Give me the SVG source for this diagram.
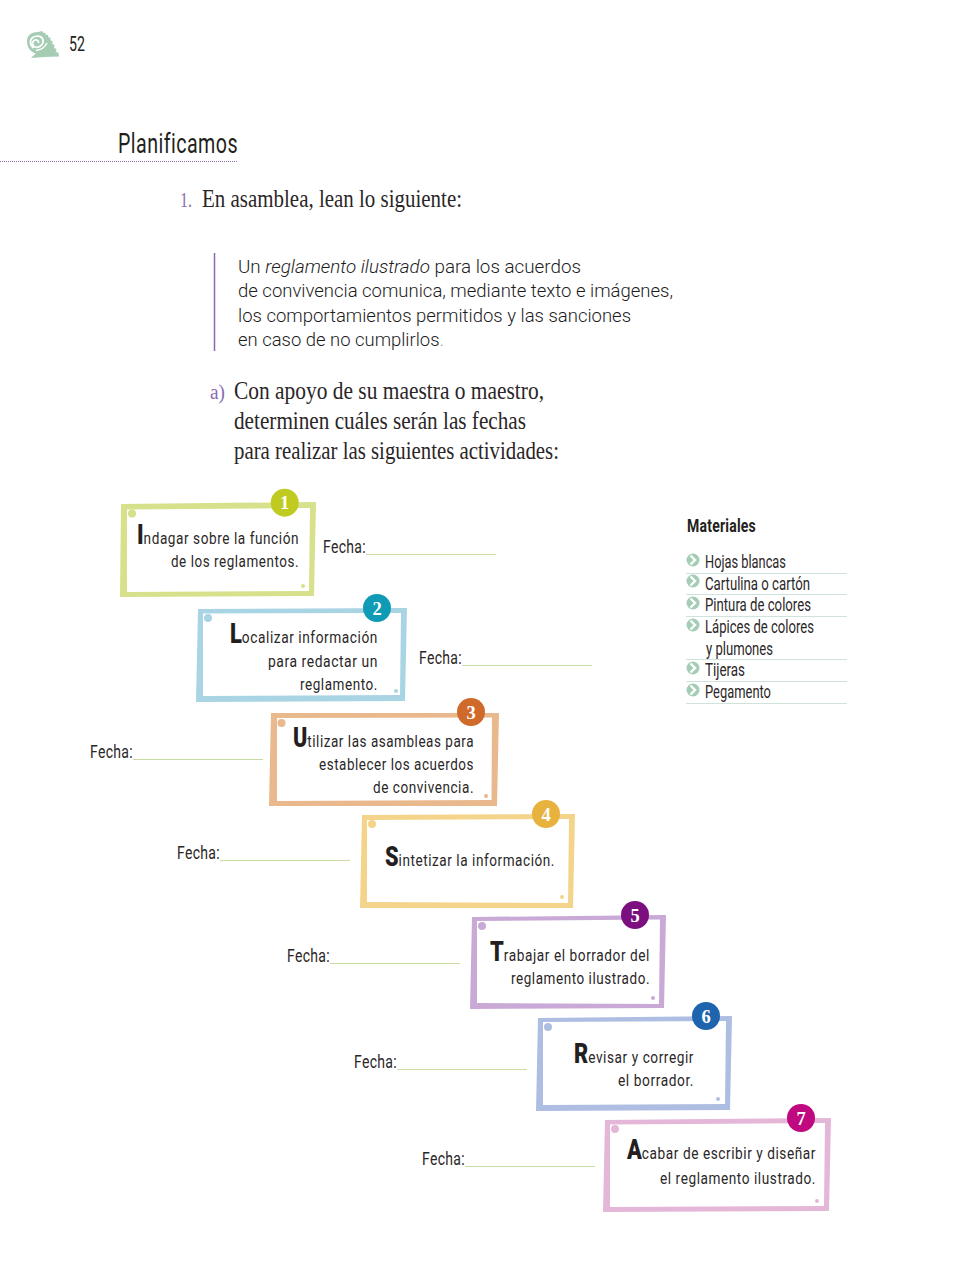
<svg xmlns="http://www.w3.org/2000/svg" width="968" height="1275" viewBox="0 0 968 1275">
<style>
text{font-family:"Roboto","Liberation Sans",sans-serif;fill:#231f20}
.b{font-size:17.200px;font-weight:400;letter-spacing:.7px;fill:#2b2728}
.cap{font-size:27.500px;font-weight:900;letter-spacing:0;fill:#231f20}
.f{font-size:17.500px;font-weight:400;letter-spacing:.4px;fill:#2b2728}
.m{font-size:17.500px;font-weight:400;fill:#2b2728}
.s{font-family:"Liberation Serif","Times New Roman",serif;font-size:24.500px;fill:#2a2627}
.n{font-family:"Liberation Serif",serif;font-size:20px;fill:#8a6bb0}
.p{font-family:"Roboto",sans-serif;font-size:18.500px;font-weight:300;fill:#1d1b1c}
.num{font-family:"Liberation Serif",serif;font-size:18.500px;font-weight:700;fill:#fff;text-anchor:middle}
.fl{stroke:#c9dca5;stroke-width:1;fill:none}
.r{stroke:#cfe3da;stroke-width:1;fill:none}
.ch{fill:none;stroke:#fff;stroke-width:2.400}
</style>
<defs>
<g id="bul"><circle r="6.500" fill="#a5cdb5"/><path class="ch" d="M-2.500-4.500L2 0-2.500 4.500"/></g>
</defs>
<g id="page-header">
<path fill="#a6cdb3" d="M27 41C27 35 32 32 38 32L42 31 43.500 33 45 32.500 46 35 48 34.800 48.500 37.500 50.500 37.500 50.500 40.500 52.500 41 52.300 44 54.500 45 54 48 56.500 49 55.800 51.500 58.500 53 59 56.500 45 57 31 58C33 55.500 35 54.500 36 53.500 30 52 27 47 27 41Z"/>
<path fill="none" stroke="#fff" stroke-width="1.800" d="M33.500 48C29 44 29.500 38 35 36.500 40 35 44 38 43 42.500 42 46 38 48 35 47 32 46 32 42 34 40.500 36.500 39 39 40.500 38.500 43"/>
<path fill="none" stroke="#fff" stroke-width="1.500" d="M36 50.500C41 50 45 47 47 43"/>
<text transform="translate(69 50.500) scale(.75 1)" font-size="20" textLength="21.300" lengthAdjust="spacingAndGlyphs">52</text>
</g>
<g id="heading">
<text transform="translate(118 153) scale(.8 1)" font-size="27" textLength="150" lengthAdjust="spacingAndGlyphs" letter-spacing=".6">Planificamos</text>
<line x1="0" y1="161.500" x2="238" y2="161.500" stroke="#8a6bb0" stroke-width="1" stroke-dasharray="1 1"/>
</g>
<g id="intro">
<text class="n" x="180" y="207" textLength="12" lengthAdjust="spacingAndGlyphs">1.</text>
<text class="s" x="202" y="207" textLength="260" lengthAdjust="spacingAndGlyphs">En asamblea, lean lo siguiente:</text>
<line x1="214.500" y1="253" x2="214.500" y2="351" stroke="#8a6bb0" stroke-width="1.500"/>
<text class="p" x="238" y="273" textLength="343" lengthAdjust="spacingAndGlyphs">Un <tspan font-style="italic">reglamento ilustrado</tspan> para los acuerdos</text>
<text class="p" x="238" y="297" textLength="435" lengthAdjust="spacingAndGlyphs">de convivencia comunica, mediante texto e imágenes,</text>
<text class="p" x="238" y="322" textLength="393" lengthAdjust="spacingAndGlyphs">los comportamientos permitidos y las sanciones</text>
<text class="p" x="238" y="346" textLength="206" lengthAdjust="spacingAndGlyphs">en caso de no cumplirlos<tspan fill="#999">.</tspan></text>
<text class="n" x="210" y="399" textLength="15" lengthAdjust="spacingAndGlyphs">a)</text>
<text class="s" x="234" y="399" textLength="310" lengthAdjust="spacingAndGlyphs">Con apoyo de su maestra o maestro,</text>
<text class="s" x="234" y="429" textLength="292" lengthAdjust="spacingAndGlyphs">determinen cuáles serán las fechas</text>
<text class="s" x="234" y="459" textLength="325" lengthAdjust="spacingAndGlyphs">para realizar las siguientes actividades:</text>
</g>
<g id="step-1">
<path fill="#d7e08b" fill-rule="evenodd" d="M121 504L316 502 314 596 120 597ZM127 509.500L310 508 309 591 127 592Z"/>
<circle cx="132" cy="513.500" r="4" fill="#d7e08b"/><circle cx="303" cy="586" r="2" fill="#d7e08b"/>
<circle cx="284.700" cy="502.700" r="14" fill="#bfcb20"/><text class="num" x="284.700" y="509">1</text>
<text class="b" transform="translate(137 544) scale(.76 1)" textLength="213.200" lengthAdjust="spacingAndGlyphs"><tspan class="cap">I</tspan>ndagar sobre la función</text>
<text class="b" transform="translate(171 567) scale(.76 1)" textLength="168.400" lengthAdjust="spacingAndGlyphs">de los reglamentos.</text>
<text class="f" transform="translate(323 553) scale(.82 1)" textLength="52.400" lengthAdjust="spacingAndGlyphs">Fecha:</text><line class="fl" x1="366" y1="554.500" x2="496" y2="554.500"/>
</g>
<g id="step-2">
<path fill="#a9d4e3" fill-rule="evenodd" d="M198 609L407 608 405 701 196 702ZM203 613.500L401 613 400 695 203 696Z"/>
<circle cx="208" cy="618" r="4" fill="#a9d4e3"/><circle cx="396" cy="691" r="2" fill="#a9d4e3"/>
<circle cx="377" cy="608" r="14" fill="#0f9bb5"/><text class="num" x="377" y="614.500">2</text>
<text class="b" transform="translate(230 643) scale(.76 1)" textLength="194.700" lengthAdjust="spacingAndGlyphs"><tspan class="cap">L</tspan>ocalizar información</text>
<text class="b" transform="translate(268 667) scale(.76 1)" textLength="144.700" lengthAdjust="spacingAndGlyphs">para redactar un</text>
<text class="b" transform="translate(300 690) scale(.76 1)" textLength="102.600" lengthAdjust="spacingAndGlyphs">reglamento.</text>
<text class="f" transform="translate(419 664) scale(.82 1)" textLength="52.400" lengthAdjust="spacingAndGlyphs">Fecha:</text><line class="fl" x1="462" y1="665.500" x2="592" y2="665.500"/>
</g>
<g id="step-3">
<path fill="#e9b88d" fill-rule="evenodd" d="M271 713L499 713 497 806 269 806ZM277 718L492 717.500 491.500 800 277 801Z"/>
<circle cx="281.500" cy="723" r="4" fill="#e9b88d"/><circle cx="486" cy="796" r="2" fill="#e9b88d"/>
<circle cx="471" cy="712" r="14" fill="#cf6a2b"/><text class="num" x="471" y="718.500">3</text>
<text class="b" transform="translate(293 747) scale(.76 1)" textLength="238.200" lengthAdjust="spacingAndGlyphs"><tspan class="cap">U</tspan>tilizar las asambleas para</text>
<text class="b" transform="translate(319 770) scale(.76 1)" textLength="203.900" lengthAdjust="spacingAndGlyphs">establecer los acuerdos</text>
<text class="b" transform="translate(373 793) scale(.76 1)" textLength="132.900" lengthAdjust="spacingAndGlyphs">de convivencia.</text>
<text class="f" transform="translate(90 758) scale(.82 1)" textLength="52.400" lengthAdjust="spacingAndGlyphs">Fecha:</text><line class="fl" x1="133" y1="759.500" x2="263" y2="759.500"/>
</g>
<g id="step-4">
<path fill="#f3d48a" fill-rule="evenodd" d="M362 815L575 814 573 908 360 908ZM367 820L569 819 568 903 367 902Z"/>
<circle cx="372" cy="824" r="4" fill="#f3d48a"/><circle cx="562" cy="897" r="2" fill="#f3d48a"/>
<circle cx="546" cy="814" r="14" fill="#e8b23f"/><text class="num" x="546" y="820.500">4</text>
<text class="b" transform="translate(385 866) scale(.76 1)" textLength="223.700" lengthAdjust="spacingAndGlyphs"><tspan class="cap">S</tspan>intetizar la información.</text>
<text class="f" transform="translate(177 859) scale(.82 1)" textLength="52.400" lengthAdjust="spacingAndGlyphs">Fecha:</text><line class="fl" x1="220" y1="860.500" x2="350" y2="860.500"/>
</g>
<g id="step-5">
<path fill="#c9aad6" fill-rule="evenodd" d="M472 917L666 915 664 1008 470 1009ZM477 921L660 919.500 659 1004 477 1003Z"/>
<circle cx="482" cy="926" r="4" fill="#c9aad6"/><circle cx="653" cy="998" r="2" fill="#c9aad6"/>
<circle cx="635" cy="915" r="14" fill="#7b0f80"/><text class="num" x="635" y="921.500">5</text>
<text class="b" transform="translate(490 961) scale(.76 1)" textLength="210.500" lengthAdjust="spacingAndGlyphs"><tspan class="cap">T</tspan>rabajar el borrador del</text>
<text class="b" transform="translate(511 984) scale(.76 1)" textLength="182.900" lengthAdjust="spacingAndGlyphs">reglamento ilustrado.</text>
<text class="f" transform="translate(287 962) scale(.82 1)" textLength="52.400" lengthAdjust="spacingAndGlyphs">Fecha:</text><line class="fl" x1="330" y1="963.500" x2="460" y2="963.500"/>
</g>
<g id="step-6">
<path fill="#aebde2" fill-rule="evenodd" d="M538 1018L732 1016 730 1110 536 1111ZM543 1022L726 1021 725 1104 543 1105Z"/>
<circle cx="548" cy="1027" r="4" fill="#aebde2"/><circle cx="718" cy="1099" r="2" fill="#aebde2"/>
<circle cx="706" cy="1016" r="14" fill="#1f65ae"/><text class="num" x="706" y="1022.500">6</text>
<text class="b" transform="translate(574 1063) scale(.76 1)" textLength="157.900" lengthAdjust="spacingAndGlyphs"><tspan class="cap">R</tspan>evisar y corregir</text>
<text class="b" transform="translate(618 1086) scale(.76 1)" textLength="100" lengthAdjust="spacingAndGlyphs">el borrador.</text>
<text class="f" transform="translate(354 1068) scale(.82 1)" textLength="52.400" lengthAdjust="spacingAndGlyphs">Fecha:</text><line class="fl" x1="397" y1="1069.500" x2="527" y2="1069.500"/>
</g>
<g id="step-7">
<path fill="#e4b6d7" fill-rule="evenodd" d="M605 1120L831 1118 829 1211 603 1212ZM610 1124.500L825 1123 824 1206 610 1207Z"/>
<circle cx="615" cy="1129" r="4" fill="#e4b6d7"/><circle cx="817" cy="1201" r="2" fill="#e4b6d7"/>
<circle cx="801" cy="1118" r="14" fill="#c0087f"/><text class="num" x="801" y="1124.500">7</text>
<text class="b" transform="translate(627 1159) scale(.76 1)" textLength="248.700" lengthAdjust="spacingAndGlyphs"><tspan class="cap">A</tspan>cabar de escribir y diseñar</text>
<text class="b" transform="translate(660 1184) scale(.76 1)" textLength="205.300" lengthAdjust="spacingAndGlyphs">el reglamento ilustrado.</text>
<text class="f" transform="translate(422 1165) scale(.82 1)" textLength="52.400" lengthAdjust="spacingAndGlyphs">Fecha:</text><line class="fl" x1="465" y1="1166.500" x2="595" y2="1166.500"/>
</g>
<g id="materiales">
<text transform="translate(687 532) scale(.78 1)" font-size="18.500" font-weight="700" textLength="88.500" lengthAdjust="spacingAndGlyphs" letter-spacing=".3">Materiales</text>
<use href="#bul" x="693" y="560"/><use href="#bul" x="693" y="581"/><use href="#bul" x="693" y="603"/><use href="#bul" x="693" y="625"/><use href="#bul" x="693" y="668"/><use href="#bul" x="693" y="690"/>
<text class="m" transform="translate(705 568) scale(.78 1)" textLength="103.800" lengthAdjust="spacingAndGlyphs">Hojas blancas</text>
<text class="m" transform="translate(705 590) scale(.78 1)" textLength="134.600" lengthAdjust="spacingAndGlyphs">Cartulina o cartón</text>
<text class="m" transform="translate(705 611) scale(.78 1)" textLength="135.900" lengthAdjust="spacingAndGlyphs">Pintura de colores</text>
<text class="m" transform="translate(705 633) scale(.78 1)" textLength="139.700" lengthAdjust="spacingAndGlyphs">Lápices de colores</text>
<text class="m" transform="translate(706 655) scale(.78 1)" textLength="85.900" lengthAdjust="spacingAndGlyphs">y plumones</text>
<text class="m" transform="translate(705 676) scale(.78 1)" textLength="51.300" lengthAdjust="spacingAndGlyphs">Tijeras</text>
<text class="m" transform="translate(705 698) scale(.78 1)" textLength="84.600" lengthAdjust="spacingAndGlyphs">Pegamento</text>
<path class="r" d="M686 573.500H847M686 594.500H847M686 616.500H847M686 659.500H847M686 681.500H847M686 703.500H847"/>
</g>
</svg>
